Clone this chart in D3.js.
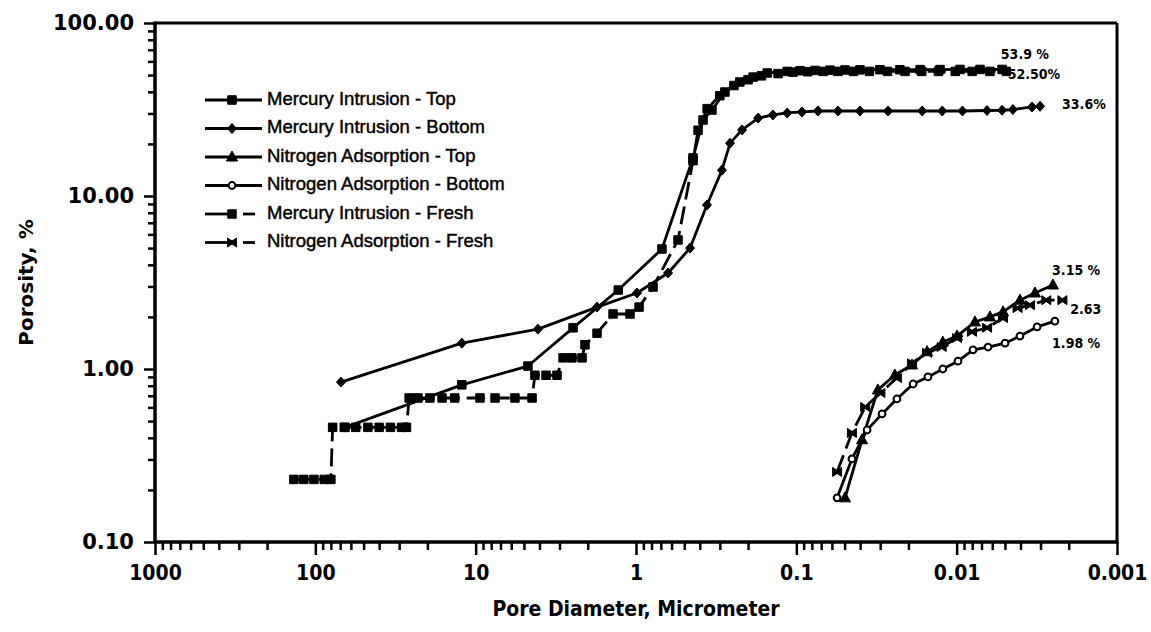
<!DOCTYPE html>
<html><head><meta charset="utf-8">
<script src="https://cdn.jsdelivr.net/npm/d3@7"></script>
<style>
html,body{margin:0;padding:0;background:#fff;}
svg{display:block;}
</style></head>
<body>
<svg id="chart" width="1151" height="632"></svg>
<script>
// ---------------- data ----------------
const xTickValues = [1000, 100, 10, 1, 0.1, 0.01, 0.001];
const xTickLabels = ["1000", "100", "10", "1", "0.1", "0.01", "0.001"];
const yTickValues = [0.1, 1, 10, 100];
const yTickLabels = ["0.10", "1.00", "10.00", "100.00"];

const seriesNames = [
  "Mercury Intrusion - Top",
  "Mercury Intrusion - Bottom",
  "Nitrogen Adsorption - Top",
  "Nitrogen Adsorption - Bottom",
  "Mercury Intrusion - Fresh",
  "Nitrogen Adsorption - Fresh"
];

const hgTopX = [65.3, 12.2, 4.72, 2.47, 1.29, 0.689, 0.441, 0.382, 0.336, 0.279, 0.225, 0.186, 0.152,
  0.114, 0.0948, 0.0764, 0.0617, 0.0497, 0.0401, 0.0301, 0.0226, 0.0169, 0.0127, 0.00953, 0.00715, 0.00521];
const hgTopY = [0.46, 0.81, 1.04, 1.73, 2.86, 4.94, 16.6, 27.5, 31.4, 39.9, 45.6, 48.7, 51.4,
  52.5, 53.0, 53.2, 53.4, 53.5, 53.6, 53.7, 53.7, 53.8, 53.8, 53.9, 53.9, 53.9];

const hgBottomX = [69.2, 12.2, 4.09, 1.75, 0.986, 0.631, 0.460, 0.361, 0.291, 0.259, 0.218, 0.173, 0.140,
  0.114, 0.0922, 0.0733, 0.0550, 0.0401, 0.0268, 0.0164, 0.0123, 0.0092, 0.00647, 0.00521, 0.00446, 0.00339, 0.00302];
const hgBottomY = [0.84, 1.41, 1.70, 2.28, 2.75, 3.59, 5.0, 8.87, 14.1, 20.2, 24.1, 28.2, 29.4,
  30.2, 30.6, 31.0, 31.0, 31.0, 31.0, 31.0, 31.0, 31.0, 31.2, 31.3, 31.6, 32.7, 33.0];

const n2TopX = [0.0497, 0.0389, 0.0310, 0.0243, 0.0190, 0.0153, 0.0122, 0.00995, 0.00769, 0.00620, 0.00514, 0.00403, 0.00325, 0.00251];
const n2TopY = [0.18, 0.39, 0.757, 0.923, 1.055, 1.26, 1.43, 1.55, 1.87, 2.0, 2.14, 2.5, 2.75, 3.06];

const n2BottomX = [0.0557, 0.0450, 0.0362, 0.0292, 0.0236, 0.0187, 0.0151, 0.0122, 0.00981, 0.00791, 0.00637, 0.00499, 0.00403, 0.00315, 0.00244];
const n2BottomY = [0.18, 0.302, 0.444, 0.55, 0.671, 0.819, 0.90, 1.0, 1.11, 1.29, 1.34, 1.41, 1.55, 1.75, 1.89];

const hgFreshX = [136, 118, 102, 88, 80, 78, 66, 56, 47, 40, 34, 29, 27,
  26, 22.9, 19.3, 16.2, 13.5, 9.4, 7.57, 5.69, 4.45,
  4.27, 3.64, 3.11, 2.85, 2.51, 2.17, 2.08, 1.75, 1.39, 1.09, 0.957, 0.783, 0.547,
  0.441, 0.41, 0.36, 0.30, 0.245, 0.20, 0.165, 0.13,
  0.105, 0.085, 0.068, 0.055, 0.044, 0.035, 0.027, 0.021, 0.0165, 0.013, 0.0102, 0.008, 0.0062, 0.0049];
const hgFreshY = [0.23, 0.23, 0.23, 0.23, 0.23, 0.46, 0.46, 0.46, 0.46, 0.46, 0.46, 0.46, 0.46,
  0.68, 0.68, 0.68, 0.68, 0.68, 0.68, 0.68, 0.68, 0.68,
  0.92, 0.92, 0.92, 1.16, 1.16, 1.16, 1.38, 1.61, 2.08, 2.08, 2.28, 2.98, 5.57,
  16.0, 24.0, 32.0, 38.0, 43.5, 47.0, 49.5, 51.0,
  52.0, 52.3, 52.5, 52.5, 52.5, 52.5, 52.5, 52.5, 52.5, 52.5, 52.5, 52.5, 52.5, 52.5];

const n2FreshX = [0.0557, 0.0450, 0.0372, 0.0299, 0.0236, 0.0190, 0.0153, 0.0124, 0.00995, 0.00803, 0.00646, 0.00514, 0.00417, 0.00349, 0.00276, 0.00219];
const n2FreshY = [0.254, 0.427, 0.603, 0.726, 0.887, 1.08, 1.24, 1.34, 1.51, 1.64, 1.73, 1.97, 2.25, 2.34, 2.5, 2.5];

const endLabels = ["53.9 %", "52.50%", "33.6%", "3.15 %", "2.63", "1.98 %"];
const endLabelX = [0.0053, 0.0048, 0.0022, 0.00254, 0.00196, 0.00254];
const endLabelY = [65, 50, 33.6, 3.7, 2.2, 1.4];

// ---------------- build ----------------
const markers = ["square", "diamond", "triangle", "circle", "square", "bowtie"];
const dashed = [false, false, false, false, true, true];
const xs = [hgTopX, hgBottomX, n2TopX, n2BottomX, hgFreshX, n2FreshX];
const ys = [hgTopY, hgBottomY, n2TopY, n2BottomY, hgFreshY, n2FreshY];
const series = seriesNames.map((name, i) => ({
  name, marker: markers[i], dashed: dashed[i],
  points: xs[i].map((v, j) => ({x: v, y: ys[i][j]}))
}));

const svg = d3.select("#chart");
const L = 155, R = 1117, T = 23, B = 542;
const x = d3.scaleLog().domain([1000, 0.001]).range([L, R]);
const y = d3.scaleLog().domain([0.1, 100]).range([B, T]);

// frame
svg.append("line").attr("x1", L).attr("x2", R).attr("y1", T).attr("y2", T)
  .attr("stroke", "#000").attr("stroke-width", 3);
svg.append("line").attr("x1", R).attr("x2", R).attr("y1", T).attr("y2", B)
  .attr("stroke", "#000").attr("stroke-width", 3);

// minor tick values
const xMinor = [];
for (let e = -3; e < 3; e++) for (let k = 2; k <= 9; k++) xMinor.push(k * Math.pow(10, e));
const yMinor = [];
for (let e = -1; e < 2; e++) for (let k = 2; k <= 9; k++) yMinor.push(k * Math.pow(10, e));

const xAxisMinor = d3.axisBottom(x).tickValues(xMinor).tickSize(8).tickFormat("");
const xAxisMajor = d3.axisBottom(x).tickValues(xTickValues).tickSize(13).tickPadding(10)
  .tickFormat((d, i) => xTickLabels[i]);
const gxm = svg.append("g").attr("transform", `translate(0,${B})`).call(xAxisMinor);
const gx = svg.append("g").attr("transform", `translate(0,${B})`).call(xAxisMajor);
[gxm, gx].forEach(g => {
  g.select(".domain").remove();
  g.selectAll(".tick line").attr("stroke", "#000").attr("stroke-width", 2.5);
});
gx.selectAll("text").attr("font-family", "'DejaVu Sans Condensed','DejaVu Sans',sans-serif")
  .attr("font-weight", "bold").attr("font-size", 21).attr("fill", "#000");

const yAxisMinor = d3.axisLeft(y).tickValues(yMinor).tickSize(7).tickFormat("");
const yAxisMajor = d3.axisLeft(y).tickValues(yTickValues).tickSize(11).tickPadding(10)
  .tickFormat((d, i) => yTickLabels[i]);
const gym = svg.append("g").attr("transform", `translate(${L},0)`).call(yAxisMinor);
const gy = svg.append("g").attr("transform", `translate(${L},0)`).call(yAxisMajor);
[gym, gy].forEach(g => {
  g.select(".domain").remove();
  g.selectAll(".tick line").attr("stroke", "#000").attr("stroke-width", 2.5);
});
gy.selectAll("text").attr("font-family", "'DejaVu Sans',sans-serif")
  .attr("font-weight", "bold").attr("font-size", 21).attr("fill", "#000");

svg.append("line").attr("x1", L).attr("x2", R + 1.5).attr("y1", B).attr("y2", B)
  .attr("stroke", "#000").attr("stroke-width", 3.5);
svg.append("line").attr("x1", L).attr("x2", L).attr("y1", T - 1.5).attr("y2", B)
  .attr("stroke", "#000").attr("stroke-width", 3.5);

// axis titles
svg.append("text").attr("x", (L + R) / 2).attr("y", 616).attr("text-anchor", "middle")
  .attr("font-family", "'DejaVu Sans Condensed','DejaVu Sans',sans-serif").attr("font-weight", "bold")
  .attr("font-size", 21).text("Pore Diameter, Micrometer");
svg.append("text").attr("transform", `translate(33,${(T + B) / 2}) rotate(-90)`).attr("text-anchor", "middle")
  .attr("font-family", "'DejaVu Sans',sans-serif").attr("font-weight", "bold")
  .attr("font-size", 20).text("Porosity, %");

// markers
function markerPath(type) {
  switch (type) {
    case "square": return d3.symbol(d3.symbolSquare, 72)();
    case "diamond": return "M0,-5L4.5,0L0,5L-4.5,0Z";
    case "triangle": return "M0,-6L5.5,4L-5.5,4Z";
    case "circle": return d3.symbol(d3.symbolCircle, 36)();
    case "bowtie": return "M-4.5,-4.5L0,-1.5L4.5,-4.5L4.5,4.5L0,1.5L-4.5,4.5Z";
  }
}
function drawMarker(g, type, cx, cy) {
  const p = g.append("path").attr("d", markerPath(type)).attr("transform", `translate(${cx},${cy})`);
  if (type === "circle") p.attr("fill", "#fff").attr("stroke", "#000").attr("stroke-width", 2);
  else p.attr("fill", "#000").attr("stroke", "#000").attr("stroke-width", 1);
}

const line = d3.line().x(d => x(d.x)).y(d => y(d.y));
const plot = svg.append("g");
series.forEach(s => {
  plot.append("path").datum(s.points).attr("d", line).attr("fill", "none")
    .attr("stroke", "#000").attr("stroke-width", 2.8)
    .attr("stroke-linejoin", "round")
    .attr("stroke-dasharray", s.dashed ? "18,7" : null);
});
series.forEach(s => {
  const g = plot.append("g");
  s.points.forEach(p => drawMarker(g, s.marker, x(p.x), y(p.y)));
});

// end labels
endLabels.forEach((t, i) => {
  svg.append("text").attr("x", x(endLabelX[i])).attr("y", y(endLabelY[i]))
    .attr("font-family", "'DejaVu Sans Condensed','DejaVu Sans',sans-serif").attr("font-weight", "bold")
    .attr("font-size", 14).attr("dominant-baseline", "middle").text(t);
});

// legend
const legend = svg.append("g");
series.forEach((s, i) => {
  const cy = 100 + i * 28.5;
  if (s.dashed) {
    legend.append("line").attr("x1", 205).attr("x2", 230).attr("y1", cy).attr("y2", cy)
      .attr("stroke", "#000").attr("stroke-width", 2.8);
    legend.append("line").attr("x1", 243).attr("x2", 255).attr("y1", cy).attr("y2", cy)
      .attr("stroke", "#000").attr("stroke-width", 2.8);
  } else {
    legend.append("line").attr("x1", 205).attr("x2", 262).attr("y1", cy).attr("y2", cy)
      .attr("stroke", "#000").attr("stroke-width", 2.8);
  }
  drawMarker(legend, s.marker, 232, cy);
  legend.append("text").attr("x", 267).attr("y", cy).attr("dominant-baseline", "middle")
    .attr("font-family", "'Liberation Sans',Arial,sans-serif").attr("font-size", 18.5)
    .attr("stroke", "#000").attr("stroke-width", 0.45)
    .text(s.name);
});
</script>
</body></html>
